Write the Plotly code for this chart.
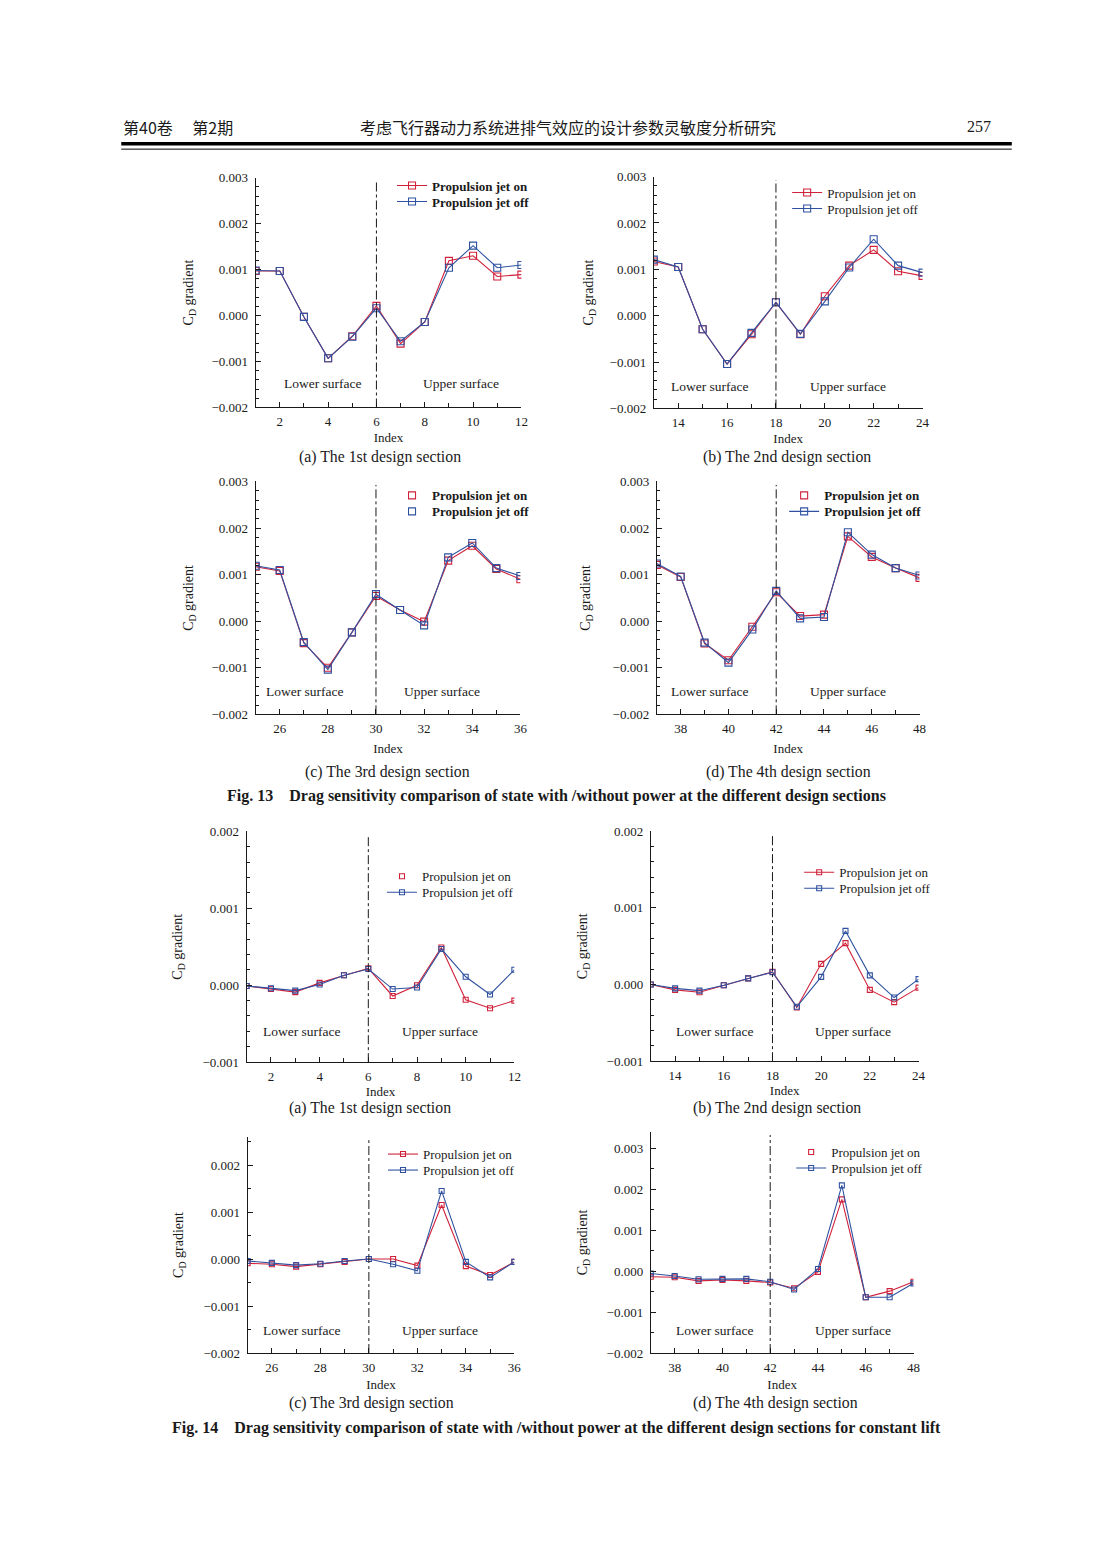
import plotly.graph_objects as go

W, H = 1102, 1546

# ---------------- data ----------------
index_s1 = [1, 2, 3, 4, 5, 6, 7, 8, 9, 10, 11, 12]
index_s2 = [13, 14, 15, 16, 17, 18, 19, 20, 21, 22, 23, 24]
index_s3 = [25, 26, 27, 28, 29, 30, 31, 32, 33, 34, 35, 36]
index_s4 = [37, 38, 39, 40, 41, 42, 43, 44, 45, 46, 47, 48]

# Fig. 13 : drag sensitivity, with / without power
f13_on_s1 = [0.00097, 0.00097, -0.00003, -0.00093, -0.00045, 0.00021, -0.00061, -0.00014, 0.00119, 0.00130, 0.00085, 0.00089]
f13_off_s1 = [0.00098, 0.00097, -0.00003, -0.00093, -0.00046, 0.00016, -0.00056, -0.00014, 0.00104, 0.00152, 0.00104, 0.00110]
f13_on_s2 = [0.00117, 0.00105, -0.00029, -0.00104, -0.00040, 0.00029, -0.00040, 0.00042, 0.00108, 0.00142, 0.00096, 0.00086]
f13_off_s2 = [0.00121, 0.00105, -0.00029, -0.00104, -0.00037, 0.00029, -0.00039, 0.00031, 0.00104, 0.00165, 0.00108, 0.00093]
f13_on_s3 = [0.00117, 0.00108, -0.00047, -0.00100, -0.00024, 0.00054, 0.00024, -0.00001, 0.00130, 0.00162, 0.00112, 0.00090]
f13_off_s3 = [0.00119, 0.00110, -0.00045, -0.00104, -0.00024, 0.00058, 0.00024, -0.00009, 0.00137, 0.00168, 0.00114, 0.00097]
f13_on_s4 = [0.00121, 0.00095, -0.00048, -0.00084, -0.00012, 0.00062, 0.00011, 0.00014, 0.00182, 0.00138, 0.00114, 0.00093]
f13_off_s4 = [0.00124, 0.00096, -0.00046, -0.00089, -0.00018, 0.00065, 0.00006, 0.00009, 0.00191, 0.00143, 0.00114, 0.00098]

# Fig. 14 : drag sensitivity for constant lift
f14_on_s1 = [-0.00001, -0.00005, -0.00009, 0.00003, 0.00013, 0.00022, -0.00014, 0.00000, 0.00049, -0.00019, -0.00030, -0.00020]
f14_off_s1 = [-0.00001, -0.00004, -0.00007, 0.00001, 0.00013, 0.00021, -0.00005, -0.00003, 0.00047, 0.00011, -0.00012, 0.00020]
f14_on_s2 = [0.00000, -0.00007, -0.00010, -0.00001, 0.00008, 0.000165, -0.00030, 0.00027, 0.00054, -0.00007, -0.00023, -0.00004]
f14_off_s2 = [0.00000, -0.00005, -0.00008, -0.00001, 0.00008, 0.00016, -0.00029, 0.00010, 0.00070, 0.00012, -0.00017, 0.00007]
f14_on_s3 = [-0.00009, -0.00011, -0.00016, -0.00011, -0.00006, 0.00000, 0.00000, -0.00014, 0.00115, -0.00015, -0.00034, -0.00006]
f14_off_s3 = [-0.00004, -0.00008, -0.00013, -0.00010, -0.00004, 0.00000, -0.00011, -0.00025, 0.00145, -0.00006, -0.00039, -0.00006]
f14_on_s4 = [-0.00014, -0.00015, -0.00024, -0.00022, -0.00024, -0.00028, -0.00042, -0.00002, 0.00175, -0.00064, -0.00049, -0.00026]
f14_off_s4 = [-0.00006, -0.00012, -0.00020, -0.00019, -0.00019, -0.00026, -0.00045, 0.00005, 0.00209, -0.00064, -0.00064, -0.00030]

series_on_name = "Propulsion jet on"
series_off_name = "Propulsion jet off"
divider_index = [6, 18, 30, 42, 6, 18, 30, 42]
x_title = "Index"
y_title = "C<sub>D</sub> gradient"

# ---------------- styling / layout ----------------
RED = "#d0213a"
BLUE = "#2f52a0"
SERIF = "Liberation Serif"
TXT = "#1a1a1a"

# page-pixel -> paper coordinates (compensates the viewer's small offset/scale)
S, OX, OY = 0.9908, 1.1, 7.3

def px(x):
    return ((x - OX) / S) / W

def py(y):
    return 1 - ((y - OY) / S) / H

# box = (left, right, top, bottom) in pixels
panels = [
    dict(idx=index_s1, on=f13_on_s1, off=f13_off_s1, box=(256, 521, 178, 408), yr=(-0.002, 0.003), ymin=0.0002,
         leg="lines", bold=True, ms=7, legpos=(432, 186), xso=4, yso=14),
    dict(idx=index_s2, on=f13_on_s2, off=f13_off_s2, box=(653, 921, 177, 409), yr=(-0.002, 0.003), ymin=0.0002,
         leg="lines", bold=False, ms=7, legpos=(826, 193), xso=4, yso=12),
    dict(idx=index_s3, on=f13_on_s3, off=f13_off_s3, box=(256, 520, 482, 715), yr=(-0.002, 0.003), ymin=0.0002,
         leg="markers", bold=True, ms=7, legpos=(432, 496), xso=8, yso=14),
    dict(idx=index_s4, on=f13_on_s4, off=f13_off_s4, box=(656, 918, 482, 715), yr=(-0.002, 0.003), ymin=0.0002,
         leg="mixed", bold=True, ms=7, legpos=(823, 496), xso=8, yso=18),
    dict(idx=index_s1, on=f14_on_s1, off=f14_off_s1, box=(247, 514, 832, 1063), yr=(-0.001, 0.002), ymin=0.0002,
         leg="mixed", bold=False, ms=5, legpos=(422, 877), xso=4, yso=16),
    dict(idx=index_s2, on=f14_on_s2, off=f14_off_s2, box=(650, 917, 832, 1062), yr=(-0.001, 0.002), ymin=0.0002,
         leg="lines", bold=False, ms=5, legpos=(838, 873), xso=4, yso=15),
    dict(idx=index_s3, on=f14_on_s3, off=f14_off_s3, box=(248, 514, 1137.8, 1354), yr=(-0.002, 0.0026), ymin=0.0005,
         leg="lines", bold=False, ms=5, legpos=(423, 1155), xso=6, yso=16),
    dict(idx=index_s4, on=f14_on_s4, off=f14_off_s4, box=(650, 912, 1132.6, 1354), yr=(-0.002, 0.0034), ymin=0.0005,
         leg="mixed", bold=False, ms=5, legpos=(830, 1153), xso=6, yso=15),
]

fig = go.Figure()
layout = dict(
    width=W, height=H,
    margin=dict(l=0, r=0, t=0, b=0),
    paper_bgcolor="white", plot_bgcolor="white",
    font=dict(family=SERIF, size=12, color=TXT),
    showlegend=True,
)
shapes = []
annotations = []

def marker(color, ms):
    return dict(symbol="square-open", size=ms, color=color, line=dict(width=1.1, color=color))

for i, p in enumerate(panels):
    n = i + 1
    sfx = "" if n == 1 else str(n)
    xa, ya = "x" + sfx, "y" + sfx
    leg_on = "legend" + ("" if n == 1 else str(n))
    leg_off = "legend" + str(n + 8)
    L, R, T, B = p["box"]
    ms = p["ms"]

    def nm(s):
        return "<b>" + s + "</b>" if p["bold"] else s

    on_in_leg = p["leg"] == "lines"
    off_in_leg = p["leg"] in ("lines", "mixed")

    fig.add_trace(go.Scatter(
        x=p["idx"], y=p["on"], mode="lines+markers", name=nm(series_on_name),
        line=dict(color=RED, width=1.1), marker=marker(RED, ms),
        xaxis=xa, yaxis=ya, legend=leg_on, showlegend=on_in_leg))
    if not on_in_leg:
        fig.add_trace(go.Scatter(
            x=[None], y=[None], mode="markers", name=nm(series_on_name), marker=marker(RED, ms),
            xaxis=xa, yaxis=ya, legend=leg_on, showlegend=True))
    fig.add_trace(go.Scatter(
        x=p["idx"], y=p["off"], mode="lines+markers", name=nm(series_off_name),
        line=dict(color=BLUE, width=1.1), marker=marker(BLUE, ms),
        xaxis=xa, yaxis=ya, legend=leg_off, showlegend=off_in_leg))
    if not off_in_leg:
        fig.add_trace(go.Scatter(
            x=[None], y=[None], mode="markers", name=nm(series_off_name), marker=marker(BLUE, ms),
            xaxis=xa, yaxis=ya, legend=leg_off, showlegend=True))

    layout["xaxis" + sfx] = dict(
        domain=[px(L), px(R)], anchor=ya, range=[p["idx"][0], p["idx"][-1]],
        tick0=0, dtick=2, ticks="inside", ticklen=5, tickwidth=1, tickcolor=TXT,
        minor=dict(dtick=1, ticks="inside", ticklen=4, tickcolor=TXT),
        showline=True, linecolor=TXT, linewidth=1, showgrid=False, zeroline=False,
        tickfont=dict(family=SERIF, size=13, color=TXT), ticklabelstandoff=2,
        title=dict(text=x_title, standoff=p["xso"], font=dict(family=SERIF, size=13, color=TXT)))
    layout["yaxis" + sfx] = dict(
        domain=[py(B), py(T)], anchor=xa, range=list(p["yr"]),
        tick0=0, dtick=0.001, tickformat=".3f", ticks="inside", ticklen=5, tickwidth=1, tickcolor=TXT,
        minor=dict(dtick=p["ymin"], ticks="inside", ticklen=3, tickcolor=TXT),
        showline=True, linecolor=TXT, linewidth=1, showgrid=False, zeroline=False,
        tickfont=dict(family=SERIF, size=13, color=TXT), ticklabelstandoff=4,
        title=dict(text=y_title, standoff=p["yso"], font=dict(family=SERIF, size=14, color=TXT)))
    tx, ty = p["legpos"]
    for legname, yy in ((leg_on, ty), (leg_off, ty + 16)):
        layout[legname] = dict(
            x=px(tx - 40), y=py(yy), xanchor="left", yanchor="middle",
            bgcolor="rgba(0,0,0,0)", borderwidth=0, traceorder="normal",
            font=dict(family=SERIF, size=13, color=TXT), itemwidth=30, tracegroupgap=0)

    shapes.append(dict(type="line", xref=xa, yref=ya + " domain",
                       x0=divider_index[i], x1=divider_index[i], y0=0, y1=0.985,
                       line=dict(color=TXT, width=1, dash="dashdot")))

# ---- region labels, captions ----
def ann(text, x, y, size=12, xanchor="center", angle=0, family=SERIF, bold=False):
    if bold:
        text = "<b>" + text + "</b>"
    annotations.append(dict(text=text, x=px(x), y=py(y), xref="paper", yref="paper",
                            xanchor=xanchor, yanchor="middle", showarrow=False, textangle=angle,
                            font=dict(family=family, size=size, color=TXT)))

surf = [((323, 384), (461, 384)), ((709, 387), (847, 387)), ((305, 692), (442, 692)), ((709, 692), (847, 692)),
        ((302, 1032), (440, 1032)), ((714, 1032), (852, 1032)), ((302, 1331), (440, 1331)), ((714, 1331), (852, 1331))]
for lo, up in surf:
    ann("Lower surface", lo[0], lo[1], size=13.5)
    ann("Upper surface", up[0], up[1], size=13.5)

subcaps = [("(a) The 1st design section", 380, 458), ("(b) The 2nd design section", 786, 458),
           ("(c) The 3rd design section", 387, 773), ("(d) The 4th design section", 787, 773),
           ("(a) The 1st design section", 370, 1109), ("(b) The 2nd design section", 776, 1109),
           ("(c) The 3rd design section", 372, 1404), ("(d) The 4th design section", 774, 1404)]
for t, x, y in subcaps:
    ann(t, x, y, size=15.8)

ann("Fig. 13&nbsp;&nbsp;&nbsp;&nbsp;Drag sensitivity comparison of state with /without power at the different design sections",
    556, 797, size=16, bold=True)
ann("Fig. 14&nbsp;&nbsp;&nbsp;&nbsp;Drag sensitivity comparison of state with /without power at the different design sections for constant lift",
    556, 1429, size=16, bold=True)

# ---- page header ----
CJK = "Noto Sans CJK SC"
ann("第40卷　&nbsp;第2期", 122, 127, size=16, xanchor="left", family=CJK)
ann("考虑飞行器动力系统进排气效应的设计参数灵敏度分析研究", 567, 127, size=16, family=CJK)
ann("257", 991, 127, size=16, xanchor="right", family=SERIF)
shapes.append(dict(type="line", xref="paper", yref="paper", x0=px(122), x1=px(1010), y0=py(144), y1=py(144),
                   line=dict(color="black", width=3.5)))
shapes.append(dict(type="line", xref="paper", yref="paper", x0=px(122), x1=px(1010), y0=py(149.5), y1=py(149.5),
                   line=dict(color="black", width=1)))

layout["shapes"] = shapes
layout["annotations"] = annotations
fig.update_layout(**layout)
fig.write_html("out.html", config={"displayModeBar": False},
               post_script="document.body.style.margin='0';document.body.style.padding='0';"
                           "document.documentElement.style.overflow='hidden';")
